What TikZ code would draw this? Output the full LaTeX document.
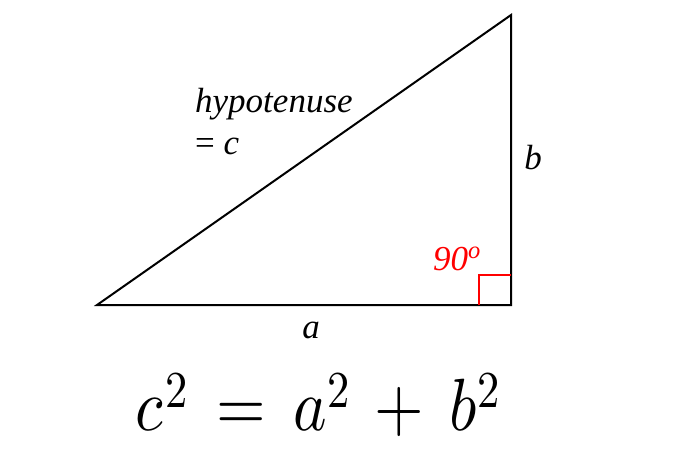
\documentclass[tikz,border=0pt]{standalone}
\usepackage{fontspec}
\usepackage{unicode-math}
\setmainfont{Liberation Serif}
\setmathfont{Latin Modern Math}
\usetikzlibrary{positioning}

\begin{document}
\begin{tikzpicture}
    [x=1pt,y=-1pt,every node/.style={inner sep=0pt, font=\fontsize{35}{42}\selectfont},
     side/.style={line width=2pt, line join=miter},
     rightangle/.style={draw=red, line width=1.5pt}]
  \useasboundingbox (0,0) rectangle (700,465);
  \coordinate (A) at (97,305);
  \coordinate (B) at (511,305);
  \coordinate (C) at (511,15);
  \coordinate (s1) at (479,305);
  \coordinate (s2) at (479,275);
  \coordinate (s3) at (511,275);

  \draw[side] (A) -- (B) -- (C) -- cycle;
  \draw[rightangle] (s1) -- (s2) -- (s3);

  \node[anchor=north west, align=left] (hyp) at (195,88) {\textit{hypotenuse}\\= \textit{c}};
  \node (a) at (311,330) {\textit{a}};
  \node (b) at (533,158) {\textit{b}};
  \node[text=red] (angle) at (457,259) {\textit{90\textsuperscript{o}}};
  \node[anchor=base, font=\fontsize{74}{80}\selectfont] (law) at (318,430) {\scalebox{0.86}[1]{$c^{\raisebox{-4pt}{$\scriptstyle 2$}} \mathrel{\,=\,} a^{\raisebox{-4pt}{$\scriptstyle 2$}} \mathbin{\,+\,} b^{\raisebox{-4pt}{$\scriptstyle 2$}}$}};
\end{tikzpicture}
\end{document}
